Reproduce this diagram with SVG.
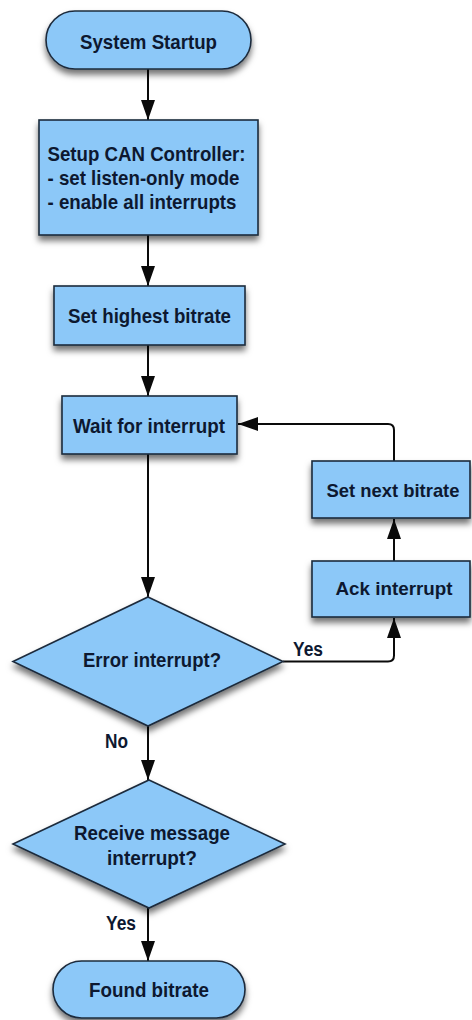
<svg xmlns="http://www.w3.org/2000/svg" width="472" height="1020" viewBox="0 0 472 1020">
  <style>
    .shape { fill: #8cc8f8; stroke: #1c2b3c; stroke-width: 1.6; filter: url(#shadow); }
    .label { font-family: "Liberation Sans", Arial, sans-serif; font-weight: bold; font-size: 21px; fill: #0d1830; text-anchor: middle; }
    .small { font-size: 19px; }
    .left { text-anchor: start; }
    .edge-label { font-family: "Liberation Sans", Arial, sans-serif; font-weight: bold; font-size: 19.5px; fill: #0d1830; }
    .edge { fill: none; stroke: #0a0a0a; stroke-width: 2; marker-end: url(#arrow); }
  </style>
  <defs>
    <filter id="shadow" x="-20%" y="-20%" width="140%" height="160%">
      <feDropShadow dx="0" dy="5" stdDeviation="3" flood-color="#000" flood-opacity="0.55"/>
    </filter>
    <marker id="arrow" markerUnits="userSpaceOnUse" markerWidth="22" markerHeight="16" refX="20" refY="7" orient="auto">
      <path d="M0,0 L20,7 L0,14 Z" fill="#0a0a0a"/>
    </marker>
  </defs>

  <rect width="472" height="1020" fill="#ffffff"/>

  <!-- connectors -->
  <g id="connectors">
    <path class="edge" d="M148,69 V120"/>
    <path class="edge" d="M148,235 V286"/>
    <path class="edge" d="M148,345 V396"/>
    <path class="edge" d="M148,454 V597"/>
    <path class="edge" d="M283,661.5 H388 Q394,661.5 394,655.5 V618"/>
    <path class="edge" d="M394,561 V519"/>
    <path class="edge" d="M394,461 V430 Q394,424 388,424 H238"/>
    <path class="edge" d="M148,726 V780"/>
    <path class="edge" d="M148,908 V961"/>
    <text class="edge-label" x="293" y="656" textLength="30" lengthAdjust="spacingAndGlyphs">Yes</text>
    <text class="edge-label" x="105" y="748" textLength="23" lengthAdjust="spacingAndGlyphs">No</text>
    <text class="edge-label" x="106" y="930" textLength="30" lengthAdjust="spacingAndGlyphs">Yes</text>
  </g>

  <g id="system-startup">
    <rect class="shape" x="46" y="11" width="205" height="58" rx="29" ry="29"/>
    <text class="label" x="148.5" y="48.5" textLength="137" lengthAdjust="spacingAndGlyphs">System Startup</text>
  </g>

  <g id="setup-can">
    <rect class="shape" x="39" y="120" width="219" height="115"/>
    <text class="label left" x="47.5" y="160.7" textLength="198" lengthAdjust="spacingAndGlyphs">Setup CAN Controller:</text>
    <text class="label left" x="47.5" y="184.8" textLength="192" lengthAdjust="spacingAndGlyphs">- set listen-only mode</text>
    <text class="label left" x="47.5" y="208.8" textLength="189" lengthAdjust="spacingAndGlyphs">- enable all interrupts</text>
  </g>

  <g id="set-highest">
    <rect class="shape" x="54" y="286" width="191" height="59"/>
    <text class="label" x="149.5" y="322.6" textLength="163" lengthAdjust="spacingAndGlyphs">Set highest bitrate</text>
  </g>

  <g id="wait-interrupt">
    <rect class="shape" x="62" y="396" width="175" height="58"/>
    <text class="label" x="149" y="432.6" textLength="152" lengthAdjust="spacingAndGlyphs">Wait for interrupt</text>
  </g>

  <g id="set-next">
    <rect class="shape" x="312" y="461" width="158" height="57"/>
    <text class="label small" x="393" y="497" textLength="133" lengthAdjust="spacingAndGlyphs">Set next bitrate</text>
  </g>

  <g id="ack-interrupt">
    <rect class="shape" x="312" y="561" width="158" height="56"/>
    <text class="label small" x="394" y="595.3" textLength="117" lengthAdjust="spacingAndGlyphs">Ack interrupt</text>
  </g>

  <g id="error-interrupt">
    <polygon class="shape" points="148,597 283,661.5 148,726 13,661.5"/>
    <text class="label" x="152" y="666.6" textLength="138" lengthAdjust="spacingAndGlyphs">Error interrupt?</text>
  </g>

  <g id="receive-interrupt">
    <polygon class="shape" points="149,780 285,844 149,908 13,844"/>
    <text class="label" x="152" y="839.6" textLength="156" lengthAdjust="spacingAndGlyphs">Receive message</text>
    <text class="label" x="152" y="864.6" textLength="90" lengthAdjust="spacingAndGlyphs">interrupt?</text>
  </g>

  <g id="found-bitrate">
    <rect class="shape" x="53" y="961" width="192" height="57" rx="28.5" ry="28.5"/>
    <text class="label" x="149" y="996.6" textLength="120" lengthAdjust="spacingAndGlyphs">Found bitrate</text>
  </g>
</svg>
